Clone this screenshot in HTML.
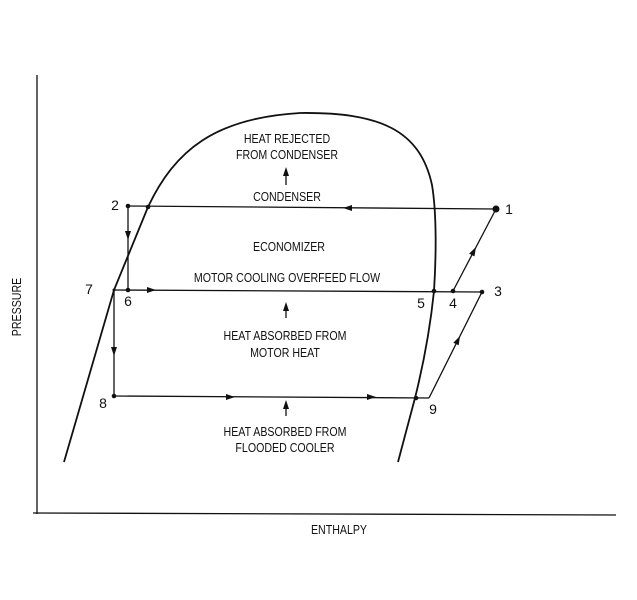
<!DOCTYPE html>
<html><head><meta charset="utf-8"><style>
html,body{margin:0;padding:0;background:#fff;}
svg{display:block;}
text{font-family:"Liberation Sans",sans-serif;fill:#111;}
.l{font-size:12.5px;}
.n{font-size:14px;}
</style></head><body>
<svg width="637" height="600" viewBox="0 0 637 600" xmlns="http://www.w3.org/2000/svg">
<g stroke="#111" fill="none" stroke-width="1.3">
<line x1="37" y1="75" x2="37" y2="514"/>
<line x1="33" y1="513" x2="616" y2="515"/>
<path d="M64,462 L114,290 L148,207 C175,150 215,118 300,113 C380,112 420,130 432,185 C437,215 436,260 434,291 C430,330 422,370 415,398 L398,462" stroke-width="1.8"/>
<line x1="128" y1="206" x2="496" y2="209"/>
<line x1="128" y1="206" x2="128" y2="290"/>
<line x1="114" y1="290" x2="482" y2="292"/>
<line x1="114" y1="290" x2="114" y2="396"/>
<line x1="114" y1="396" x2="429" y2="398"/>
<line x1="453" y1="291" x2="496" y2="209"/>
<line x1="429" y1="398" x2="482" y2="292"/>
<line x1="286" y1="172" x2="286" y2="185"/>
<line x1="286" y1="318" x2="286" y2="308"/>
<line x1="286" y1="416" x2="286" y2="405"/>
</g>
<g fill="#111">
<circle cx="496" cy="209" r="3.5"/>
<circle cx="128" cy="206" r="2.3"/>
<circle cx="148" cy="207" r="2.3"/>
<circle cx="128" cy="290" r="2.3"/>
<circle cx="114" cy="290" r="1.5"/>
<circle cx="434" cy="291" r="2.3"/>
<circle cx="453" cy="291" r="2.3"/>
<circle cx="482" cy="292" r="2.3"/>
<circle cx="114" cy="396" r="2.3"/>
<circle cx="416" cy="398" r="2.3"/>
<polygon points="343,208 352,205 352,211"/>
<polygon points="128,240 125,231 131,231"/>
<polygon points="156,290 147,287 147,293"/>
<polygon points="114,356 111,347 117,347"/>
<polygon points="235,397 226,394 226,400"/>
<polygon points="376,397 367,394 367,400"/>
<polygon points="476,247 474.5,256.4 469.1,253.6"/>
<polygon points="460,336 458.7,345.3 453.3,342.7"/>
<polygon points="286,167 283,176 289,176"/>
<polygon points="286,302 283,311 289,311"/>
<polygon points="286,400 283,409 289,409"/>
</g>
<g class="l" text-anchor="middle">
<text x="287" y="143" transform="translate(287,0) scale(0.85,1) translate(-287,0)">HEAT REJECTED</text>
<text x="287" y="159" transform="translate(287,0) scale(0.85,1) translate(-287,0)">FROM CONDENSER</text>
<text x="287" y="201" transform="translate(287,0) scale(0.85,1) translate(-287,0)">CONDENSER</text>
<text x="289" y="251" transform="translate(289,0) scale(0.85,1) translate(-289,0)">ECONOMIZER</text>
<text x="287" y="282" transform="translate(287,0) scale(0.85,1) translate(-287,0)">MOTOR COOLING OVERFEED FLOW</text>
<text x="285" y="340" transform="translate(285,0) scale(0.85,1) translate(-285,0)">HEAT ABSORBED FROM</text>
<text x="285" y="357" transform="translate(285,0) scale(0.85,1) translate(-285,0)">MOTOR HEAT</text>
<text x="285" y="436" transform="translate(285,0) scale(0.85,1) translate(-285,0)">HEAT ABSORBED FROM</text>
<text x="285" y="452" transform="translate(285,0) scale(0.85,1) translate(-285,0)">FLOODED COOLER</text>
<text x="339" y="534" transform="translate(339,0) scale(0.85,1) translate(-339,0)">ENTHALPY</text>
<text x="0" y="0" transform="translate(21,307) rotate(-90) scale(0.85,1)">PRESSURE</text>
</g>
<g class="n" text-anchor="middle">
<text x="115" y="210">2</text>
<text x="509" y="214">1</text>
<text x="89" y="294">7</text>
<text x="128" y="306">6</text>
<text x="421" y="308">5</text>
<text x="453" y="308">4</text>
<text x="498" y="296">3</text>
<text x="103" y="408">8</text>
<text x="433" y="414">9</text>
</g>
</svg>
</body></html>
